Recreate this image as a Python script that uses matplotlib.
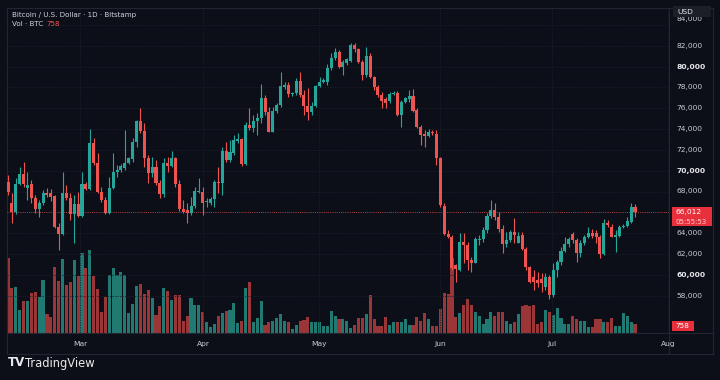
import matplotlib
matplotlib.use("Agg")
import matplotlib.pyplot as plt
from matplotlib.patches import Rectangle
from matplotlib.lines import Line2D
import matplotlib.transforms as mtransforms
import numpy as np

# ---------------- data (daily candles, BTC/USD Bitstamp) ----------------
opens = [68900, 66930, 66060, 68720, 69680, 68300, 68720, 67340, 66290, 66860,
         67890, 67890, 67570, 64550, 63910, 67890, 67340, 65840, 66800, 65640,
         68720, 68210, 72630, 70770, 67980, 67180, 65900, 68300, 69910, 70070,
         70230, 70770, 71090, 72790, 74810, 73850, 71190, 69810, 70390, 68790,
         67760, 70770, 70450, 71250, 68690, 66290, 66220, 65900, 66640, 67985,
         67990, 66950, 66860, 67250, 68950, 68790, 71900, 71030, 71670, 72860,
         73020, 70610, 74390, 74140, 74780, 75100, 77020, 75680, 73750, 75770,
         76320, 78080, 78240, 77340, 77440, 78620, 77280, 76250, 75610, 76250,
         78180, 78560, 78560, 79840, 80800, 81380, 80000, 80320, 80580, 82090,
         81670, 80480, 79200, 81030, 79040, 78080, 77280, 76860, 76730, 77380,
         77500, 75360, 76640, 76860, 77180, 75840, 74230, 73530, 73340, 73750,
         73530, 71190, 66610, 63910, 63660, 60930, 60450, 63180, 62860, 61410,
         61160, 63340, 63400, 64300, 65650, 66220, 65580, 64360, 62950, 63340,
         64140, 63080, 63820, 62440, 60710, 59750, 59490, 59620, 58850, 59750,
         58050, 60450, 61250, 62310, 62950, 63910, 63340, 62060, 63020, 63590,
         64040, 63980, 63590, 61990, 64940, 64620, 63660, 63720, 64620, 64680,
         65100, 66540]
highs = [69600, 67820, 69270, 70390, 70800, 69900, 69100, 67660, 67180, 68140,
         68300, 68210, 67660, 64940, 69910, 68620, 67820, 67660, 67980, 69910,
         68950, 74010, 73110, 71670, 68470, 67500, 69430, 71670, 70550, 70600,
         73910, 71300, 73110, 74880, 76000, 74560, 71510, 71350, 71030, 69110,
         71190, 71350, 71930, 71350, 69110, 67180, 66860, 67500, 68470, 69270,
         68470, 67340, 67500, 69110, 70390, 72310, 72790, 72950, 73430, 73590,
         73110, 74710, 76060, 75360, 75520, 78300, 77280, 76160, 76160, 76480,
         79460, 78500, 78560, 77600, 78880, 79460, 77760, 77920, 76640, 78240,
         79040, 78900, 80230, 81280, 81830, 81600, 80640, 80800, 82250, 82250,
         81770, 80640, 81930, 81290, 79100, 78240, 77600, 77120, 77600, 77700,
         77700, 76800, 77100, 77760, 77820, 76000, 74390, 73910, 73980, 73900,
         73910, 71350, 66860, 64300, 63820, 61000, 64040, 63980, 63180, 61740,
         63590, 63820, 64620, 65900, 67180, 66860, 66060, 64780, 64140, 64300,
         65420, 64140, 64140, 62700, 60840, 60450, 60290, 60130, 60130, 59970,
         61090, 61410, 62700, 63660, 63660, 64140, 63500, 63340, 63820, 64620,
         64360, 64300, 63820, 65320, 65260, 64880, 64300, 64780, 64900, 65580,
         66860, 66800]
lows = [67700, 65000, 65840, 68620, 68400, 67180, 66860, 65900, 65580, 66700,
        67500, 67120, 64460, 62380, 63820, 67180, 65260, 63020, 65580, 65580,
        68140, 68140, 70550, 67820, 67020, 65840, 65840, 68210, 69430, 69900,
        70100, 70600, 70870, 72310, 73590, 70390, 68790, 69430, 68620, 67340,
        67500, 69910, 70390, 68470, 66160, 65900, 64940, 65740, 66380, 67820,
        65740, 66540, 66700, 66540, 67820, 67660, 70870, 70870, 71510, 72700,
        70480, 70550, 73910, 73750, 73430, 74550, 75360, 73690, 73690, 75520,
        76160, 77900, 77120, 77200, 77280, 77120, 75360, 74870, 75360, 76160,
        78000, 78400, 78240, 79650, 80640, 79840, 79200, 80200, 80480, 81450,
        80320, 78720, 79040, 78880, 77760, 77120, 76000, 76000, 76480, 77280,
        75260, 74230, 76500, 76640, 75680, 74070, 72470, 72310, 73210, 73400,
        70550, 66540, 63820, 63500, 60450, 59300, 60390, 61090, 60450, 60290,
        61090, 62860, 63180, 63980, 65420, 65260, 64140, 62060, 62700, 63180,
        63020, 63020, 62380, 60450, 59170, 58530, 58850, 58370, 58530, 57630,
        57890, 59800, 60930, 62220, 62700, 63020, 61250, 61740, 62860, 63500,
        63500, 63020, 61570, 61900, 64620, 63590, 62220, 63660, 64500, 64620,
        65000, 65580]
closes = [68000, 66060, 68720, 69680, 68720, 68650, 67340, 66290, 66860, 67890,
          67700, 67440, 64620, 63910, 67820, 67340, 65840, 66800, 65640, 68720,
          68210, 72630, 70770, 67980, 67180, 65900, 68300, 69910, 70070, 70450,
          70710, 71190, 72730, 74810, 73850, 71190, 69810, 70390, 68790, 67760,
          70770, 70450, 71190, 68690, 66290, 66060, 65900, 66640, 68080, 68081,
          66860, 67020, 67250, 68950, 68790, 71900, 71030, 71800, 72950, 73050,
          70610, 74390, 74140, 74780, 75100, 77020, 75610, 73750, 75770, 76320,
          78180, 78240, 77340, 77440, 78620, 77280, 76250, 75610, 76250, 78180,
          78560, 78700, 79840, 80800, 81380, 80000, 80480, 80710, 82090, 81670,
          80480, 79200, 81030, 79040, 78080, 77280, 76730, 76540, 77380, 77500,
          75360, 76640, 76960, 77180, 75770, 74230, 73430, 73340, 73750, 73600,
          71190, 66700, 63910, 63660, 60610, 60520, 63180, 62860, 61410, 61160,
          63400, 63400, 64300, 65650, 66220, 65580, 64360, 62950, 63340, 64140,
          63820, 63720, 62440, 60710, 59330, 59330, 59240, 59170, 59810, 58050,
          60450, 61250, 62310, 62950, 63400, 63340, 62060, 63020, 63660, 64040,
          63720, 63590, 61990, 64940, 64780, 63660, 63820, 64620, 64680, 65200,
          66540, 66012]
volumes = [6300, 3780, 3860, 1930, 2690, 2690, 3360, 3440, 3020, 4450,
           1600, 1340, 5540, 4370, 6220, 4030, 4280, 6130, 4790, 6720,
           5460, 6970, 4790, 3700, 1760, 3020, 4870, 5460, 4870, 5120,
           4870, 1680, 2440, 3950, 4120, 3280, 3610, 2940, 1510, 2270,
           3780, 3530, 2770, 3190, 3190, 1010, 1430, 2940, 2350, 2350,
           1760, 920, 500, 760, 1430, 1680, 1850, 1930, 2520, 840,
           1010, 3780, 4280, 920, 1260, 2690, 670, 920, 1010, 1260,
           1600, 1010, 920, 340, 670, 1010, 1090, 1340, 920, 920,
           920, 590, 590, 1850, 1430, 1180, 1180, 1010, 420, 670,
           1260, 1260, 1600, 3190, 1180, 590, 590, 1340, 670, 920,
           920, 920, 1180, 670, 670, 1340, 1010, 1680, 1180, 590,
           590, 2020, 3360, 3280, 6300, 1340, 1680, 2350, 2860, 2350,
           1760, 1430, 760, 1180, 1760, 1430, 1760, 1760, 1010, 760,
           920, 1600, 2270, 2350, 2270, 2350, 760, 920, 1930, 1760,
           1510, 2100, 1260, 760, 760, 1430, 1180, 1010, 1010, 500,
           500, 1180, 1180, 920, 920, 1260, 590, 590, 1680, 1430,
           920, 758]
price_ticks = [58000, 60000, 62000, 64000, 66000, 68000, 70000, 72000,
               74000, 76000, 78000, 80000, 82000, 84000]
months = ["Mar", "Apr", "May", "Jun", "Jul", "Aug"]
month_pos = [18.5, 50.1, 79.9, 110.9, 139.7, 169.5]
last_price = 66012
last_volume = 758
countdown = "05:55:53"
title = "Bitcoin / U.S. Dollar · 1D · Bitstamp"

# ---------------- style ----------------
BG = "#0c0f17"
UP = "#26a69a"
DN = "#ef5350"
GRID = "#1b1f2b"
BORDER = "#222633"
TXT = "#c9ccd4"
W, H = 720, 380

fig = plt.figure(figsize=(7.2, 3.8), dpi=100)
fig.patch.set_facecolor(BG)

def fx(px):
    return px / W

def fy(py):
    return 1 - py / H

L, R, T, B = 7, 669, 8, 333
rect = [fx(L), fy(B), (R - L) / W, (B - T) / H]
SP = (635 - 8) / 161.0            # pixel spacing of candles
x0 = (L - 8) / SP
x1 = (R - 8) / SP
ppx = 96.15                        # price per pixel
ylo = 68000 - (B - 191.5) * ppx
yhi = 68000 + (191.5 - T) * ppx

axv = fig.add_axes(rect, zorder=1)
ax = fig.add_axes(rect, zorder=2)
for a in (axv, ax):
    a.set_xlim(x0, x1)
    a.set_axis_off()
axv.set_facecolor(BG)
ax.set_facecolor("none")
ax.set_ylim(ylo, yhi)

n = len(closes)
idx = np.arange(n)
o = np.array(opens, float)
c = np.array(closes, float)
h = np.array(highs, float)
l = np.array(lows, float)
v = np.array(volumes, float)
up = c >= o
cols = np.where(up, UP, DN)

# grid
for p in price_ticks:
    ax.axhline(p, color=GRID, lw=0.6, ls=(0, (1.5, 1.5)), zorder=0)
for mp in month_pos:
    ax.axvline(mp, color=GRID, lw=0.6, ls=(0, (1.5, 1.5)), zorder=0)

# volume
axv.set_ylim(0, v.max() / 0.255)
vcols = np.where(up, "#217a72", "#9a3538")
axv.bar(idx, v, width=0.8, color=vcols, zorder=1, linewidth=0)

# candles
ax.vlines(idx, l, h, colors=cols, lw=0.8, zorder=3)
body_lo = np.minimum(o, c)
body_h = np.maximum(np.abs(c - o), 90)
ax.bar(idx, body_h, bottom=body_lo, width=0.78, color=cols, zorder=4, linewidth=0)

# current price dotted line
ax.axhline(last_price, color=DN, lw=0.6, ls=(0, (1, 1.6)), zorder=2, alpha=0.9)

# ---------------- borders ----------------
def hline(py, xa, xb, col=BORDER, lw=0.8):
    fig.add_artist(Line2D([fx(xa), fx(xb)], [fy(py), fy(py)], color=col, lw=lw))

def vline(px, ya, yb, col=BORDER, lw=0.8):
    fig.add_artist(Line2D([fx(px), fx(px)], [fy(ya), fy(yb)], color=col, lw=lw))

hline(T, L, 713)
hline(B, L, 713)
hline(354, L, 713)
vline(L, T, 354)
vline(R, T, 354)
vline(713, T, 354)

# ---------------- price scale ----------------
tr = mtransforms.blended_transform_factory(fig.transFigure, ax.transData)
top_label_y = 68000 + (191.5 - 19.0) * ppx   # top label sits just under the USD box
for p in price_ticks:
    bold = p in (60000, 70000, 80000)
    yy = p if p < price_ticks[-1] else top_label_y
    ax.text(fx(676.5), yy, f"{p:,}", transform=tr, ha="left", va="center",
            fontsize=5.4, color="#e8e9ec" if bold else TXT,
            fontweight="bold" if bold else "normal", clip_on=False, zorder=1)

def fbox(xa, ya, xb, yb, col):
    fig.add_artist(Rectangle((fx(xa), fy(yb)), fx(xb) - fx(xa), fy(ya) - fy(yb),
                             transform=fig.transFigure, facecolor=col, edgecolor="none", zorder=5))

# last price label
fbox(671.7, 207.3, 711.7, 226.3, "#e8303c")
fig.text(fx(676), fy(212.3), f"{last_price:,}", ha="left", va="center", fontsize=5.4,
         color="white", zorder=6)
fig.text(fx(676), fy(221.5), countdown, ha="left", va="center", fontsize=5.0,
         color="#ffc9cc", zorder=6)
# volume label
fbox(671.7, 320.7, 694.3, 330.7, "#e8303c")
fig.text(fx(675.5), fy(325.9), f"{last_volume}", ha="left", va="center", fontsize=5.2,
         color="white", zorder=6)
# USD box
fbox(673, 6.5, 711, 17.0, "#1c1f28")
fig.text(fx(677), fy(11.8), "USD", ha="left", va="center", fontsize=5.4, color="#e8e9ec", zorder=6)

# ---------------- time scale ----------------
trx = mtransforms.blended_transform_factory(ax.transData, fig.transFigure)
for m, mp in zip(months, month_pos):
    ax.text(mp, fy(344), m, transform=trx, ha="center", va="center", fontsize=5.4,
            color=TXT, clip_on=False)

# ---------------- legend ----------------
fig.text(fx(11.5), fy(15), title, ha="left", va="center", fontsize=5.1, color="#d1d4dc")
fig.text(fx(11.5), fy(24.5), "Vol · BTC", ha="left", va="center", fontsize=5.1, color="#d1d4dc")
fig.text(fx(46.5), fy(24.5), f"{last_volume}", ha="left", va="center", fontsize=5.1, color=DN)

# ---------------- TradingView logo ----------------
fig.text(fx(8), fy(363), "TV", ha="left", va="center", fontsize=8.5, fontweight="bold",
         color="#e8e9ec")
fig.text(fx(25), fy(363), "TradingView", ha="left", va="center", fontsize=8.3, color="#e8e9ec")

fig.savefig("out.png", dpi=100, facecolor=BG)
